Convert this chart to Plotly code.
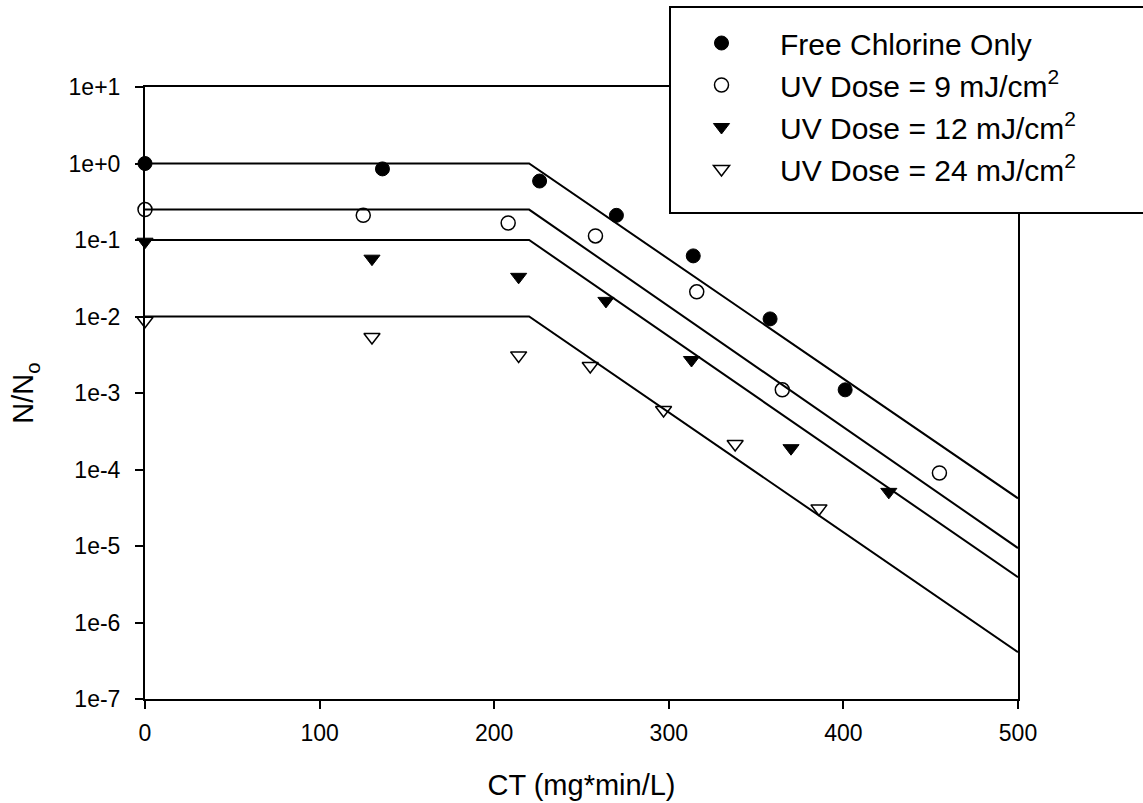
import plotly.graph_objects as go

ct_free = [0, 136, 226, 270, 314, 358, 401]
nn_free = [1.0, 0.85, 0.59, 0.21, 0.062, 0.0093, 0.0011]
ct_uv9 = [0, 125, 208, 258, 316, 365, 455]
nn_uv9 = [0.25, 0.21, 0.167, 0.113, 0.021, 0.0011, 9.0e-5]
ct_uv12 = [0, 130, 214, 264, 313, 370, 426]
nn_uv12 = [0.095, 0.057, 0.033, 0.016, 0.0027, 1.9e-4, 5.1e-5]
ct_uv24 = [0, 130, 214, 255, 297, 338, 386]
nn_uv24 = [0.0088, 5.4e-3, 3.1e-3, 2.25e-3, 6.0e-4, 2.15e-4, 3.1e-5]

# Fitted model curves (lag then log-linear decline)
fit_ct = [0, 220, 500]
fit_free = [1.0, 1.0, 4.2e-5]
fit_uv9 = [0.25, 0.25, 9.4e-6]
fit_uv12 = [0.1, 0.1, 3.9e-6]
fit_uv24 = [0.01, 0.01, 4.1e-7]

names = ["Free Chlorine Only", "UV Dose = 9 mJ/cm<sup>2</sup>",
         "UV Dose = 12 mJ/cm<sup>2</sup>", "UV Dose = 24 mJ/cm<sup>2</sup>"]

y_tickvals = [1e1, 1e0, 1e-1, 1e-2, 1e-3, 1e-4, 1e-5, 1e-6, 1e-7]
y_ticktext = ["1e+1", "1e+0", "1e-1", "1e-2", "1e-3", "1e-4", "1e-5", "1e-6", "1e-7"]
x_tickvals = [0, 100, 200, 300, 400, 500]

FONT = "Liberation Sans, Arial, sans-serif"

fig = go.Figure()

for fy in [fit_free, fit_uv9, fit_uv12, fit_uv24]:
    fig.add_trace(go.Scatter(x=fit_ct, y=fy, mode="lines",
                             line=dict(color="black", width=2),
                             showlegend=False, hoverinfo="skip"))

styles = [
    dict(symbol="circle", color="black", line=dict(color="black", width=1)),
    dict(symbol="circle-open", color="black", line=dict(color="black", width=1.5)),
    dict(symbol="triangle-down", color="black", line=dict(color="black", width=1)),
    dict(symbol="triangle-down-open", color="black", line=dict(color="black", width=1.5)),
]
series = [(ct_free, nn_free), (ct_uv9, nn_uv9), (ct_uv12, nn_uv12), (ct_uv24, nn_uv24)]
for (xs, ys), nm, st in zip(series, names, styles):
    fig.add_trace(go.Scatter(x=xs, y=ys, mode="markers", name=nm,
                             marker=dict(size=14, **st), cliponaxis=False))

fig.update_layout(
    width=1143, height=803,
    margin=dict(l=145, r=125, t=87, b=104, autoexpand=False),
    paper_bgcolor="white", plot_bgcolor="white",
    font=dict(family=FONT, color="black", size=23),
    showlegend=True,
    legend=dict(x=(663 - 145) / 873, y=(699 - 17) / 612, xanchor="left", yanchor="top",
                bgcolor="rgba(0,0,0,0)", borderwidth=0,
                font=dict(family=FONT, size=30, color="black"),
                itemwidth=107),
    shapes=[dict(type="rect", xref="paper", yref="paper",
                 x0=(670 - 145) / 873, x1=(1160 - 145) / 873,
                 y0=(699 - 213) / 612, y1=(699 - 7) / 612,
                 line=dict(color="black", width=2), fillcolor="white",
                 layer="above")],
)

fig.update_xaxes(range=[0, 500], tickvals=x_tickvals, ticks="outside", ticklen=8,
                 tickwidth=2, tickcolor="black", showline=True, linecolor="black",
                 linewidth=2, mirror=True, showgrid=False, zeroline=False,
                 ticklabelstandoff=4, tickfont=dict(family=FONT, size=23),
                 title=dict(text="CT (mg*min/L)", font=dict(family=FONT, size=29), standoff=30))
fig.update_yaxes(type="log", range=[-7, 1], tickvals=y_tickvals, ticktext=y_ticktext,
                 ticks="outside", ticklen=8, tickwidth=2, tickcolor="black",
                 showline=True, linecolor="black", linewidth=2, mirror=True,
                 showgrid=False, zeroline=False, ticklabelstandoff=10,
                 tickfont=dict(family=FONT, size=23),
                 title=dict(text="N/N<sub>o</sub>", font=dict(family=FONT, size=29), standoff=26))

fig.write_html("out.html")
